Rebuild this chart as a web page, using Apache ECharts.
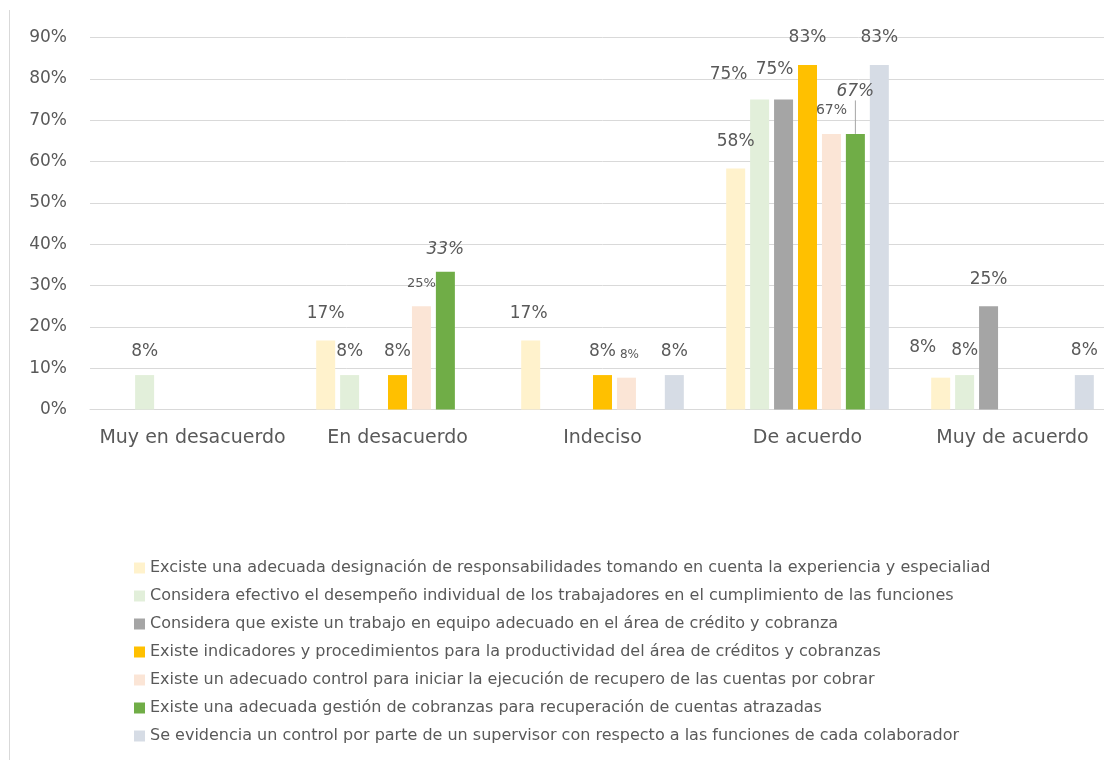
<!DOCTYPE html>
<html>
<head>
<meta charset="utf-8">
<script src="https://cdn.jsdelivr.net/npm/echarts@6/dist/echarts.min.js"></script>
<style>
  html, body { margin: 0; padding: 0; background: #fff; overflow: hidden; }
  /* the last category runs slightly past the right edge of the window */
  #chart { width: 1125px; height: 760px; }
</style>
</head>
<body>
<div id="chart"></div>
<script>
// Answer categories on the x axis
const categories = ['Muy en desacuerdo', 'En desacuerdo', 'Indeciso', 'De acuerdo', 'Muy de acuerdo'];

// Survey statements (one series each)
const seriesNames = [
  'Exciste una adecuada designación de responsabilidades tomando en cuenta la experiencia y especialiad',
  'Considera efectivo el desempeño individual de los trabajadores en el cumplimiento de las funciones',
  'Considera que existe un trabajo en equipo adecuado en el área de crédito y cobranza',
  'Existe indicadores y procedimientos para la productividad del área de créditos y cobranzas',
  'Existe un adecuado control para iniciar la ejecución de recupero de las cuentas por cobrar',
  'Existe una adecuada gestión de cobranzas para recuperación de cuentas atrazadas',
  'Se evidencia un control por parte de un supervisor con respecto a las funciones de cada colaborador'
];

// Percentages per category (null = no answers)
const s1 = [null, 16.67, 16.67, 58.33, 7.7];
const s2 = [8.33, 8.33, null, 75, 8.33];
const s3 = [null, null, null, 75, 25];
const s4 = [null, 8.33, 8.33, 83.33, null];
const s5 = [null, 25, 7.7, 66.67, null];
const s6 = [null, 33.33, null, 66.67, null];
const s7 = [null, null, 8.33, 83.33, 8.33];
const seriesValues = [s1, s2, s3, s4, s5, s6, s7];

// Y axis ticks
const yTicks = [0, 10, 20, 30, 40, 50, 60, 70, 80, 90];

const colors = ['#FFF2CC', '#E2EFDA', '#A5A5A5', '#FFC000', '#FBE5D6', '#70AD47', '#D6DCE5'];
const textColor = '#595959';
const fontFamily = '"DejaVu Sans", sans-serif';

// Data label placement: key "series,category" -> horizontal shift, height of label centre above bar top, size, italic
const labelTweaks = {
  '0,1': { gap: 27 }, '0,2': { dx: -2, gap: 27 }, '0,3': { gap: 27 }, '0,4': { dx: -18, gap: 30 },
  '1,0': { gap: 23 }, '1,1': { gap: 23 }, '1,3': { dx: -31, gap: 25 }, '1,4': { gap: 24 },
  '2,3': { dx: -9, gap: 30 }, '2,4': { gap: 27 },
  '3,1': { gap: 23 }, '3,2': { gap: 23 }, '3,3': { gap: 27 },
  '4,1': { gap: 23, size: 13 }, '4,2': { dx: 3, gap: 23, size: 12 }, '4,3': { gap: 24, size: 14 },
  '5,1': { gap: 22, italic: true }, '5,3': { gap: 42, italic: true, line: true },
  '6,2': { gap: 23 }, '6,3': { gap: 27 }, '6,4': { gap: 24 }
};

const series = seriesValues.map((vals, si) => ({
  name: seriesNames[si],
  type: 'bar',
  barWidth: 19,
  barGap: '26%',
  itemStyle: { color: colors[si] },
  data: vals.map((v, ci) => {
    const t = labelTweaks[si + ',' + ci] || {};
    return {
      value: v,
      label: {
        fontSize: t.size || 17,
        fontStyle: t.italic ? 'italic' : 'normal'
      },
      labelLine: { show: !!t.line, lineStyle: { color: '#A6A6A6', width: 1 } }
    };
  }),
  label: {
    show: true,
    position: 'top',
    color: textColor,
    fontFamily: fontFamily,
    formatter: p => (p.value == null ? '' : Math.round(p.value) + '%')
  },
  labelLayout: function (p) {
    const t = labelTweaks[p.seriesIndex + ',' + p.dataIndex] || {};
    return {
      x: p.rect.x + p.rect.width / 2 + (t.dx || 0),
      y: p.rect.y - (t.gap || 25),
      align: 'center',
      verticalAlign: 'middle'
    };
  }
}));

const chart = echarts.init(document.getElementById('chart'));
chart.setOption({
  backgroundColor: '#fff',
  animation: false,
  color: colors,
  textStyle: { fontFamily: fontFamily },
  grid: { left: 90, right: 10, top: 37.5, bottom: 350.5, containLabel: false },
  xAxis: {
    type: 'category',
    data: categories,
    axisLine: { lineStyle: { color: '#D9D9D9', width: 1 } },
    axisTick: { show: false },
    axisLabel: { color: textColor, fontSize: 19, margin: 19, fontFamily: fontFamily, interval: 0 }
  },
  yAxis: {
    type: 'value',
    min: yTicks[0],
    max: yTicks[yTicks.length - 1],
    interval: yTicks[1] - yTicks[0],
    axisLine: { show: false },
    axisTick: { show: false },
    splitLine: { lineStyle: { color: '#D9D9D9', width: 1 } },
    axisLabel: { color: textColor, fontSize: 17, margin: 23, fontFamily: fontFamily, formatter: '{value}%' }
  },
  legend: {
    orient: 'vertical',
    left: 129,
    top: 555,
    icon: 'rect',
    itemWidth: 11,
    itemHeight: 11,
    itemGap: 12,
    textStyle: { color: textColor, fontSize: 16, fontFamily: fontFamily, padding: [0, 0, 0, 0] },
    data: seriesNames
  },
  graphic: [{
    type: 'line',
    shape: { x1: 9.5, y1: 10, x2: 9.5, y2: 760 },
    style: { stroke: '#D9D9D9', lineWidth: 1 },
    silent: true
  }],
  series: series
});
</script>
</body>
</html>
